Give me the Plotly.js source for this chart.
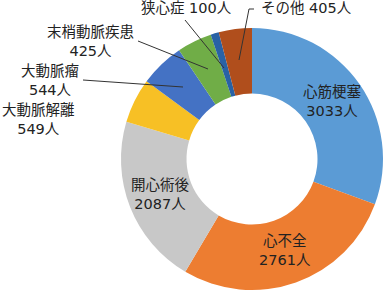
<!DOCTYPE html>
<html><head><meta charset="utf-8">
<script src="https://cdn.plot.ly/plotly-3.0.1.min.js"></script>
<style>html,body{margin:0;padding:0;background:#fff}</style>
</head><body><div id="chart" style="width:387px;height:294px"></div>
<script>
const labels = ["心筋梗塞","心不全","開心術後","大動脈解離","大動脈瘤","末梢動脈疾患","狭心症","その他"];
const values = [3033, 2761, 2087, 549, 544, 425, 100, 405];
const colors = ["#5B9BD5","#ED7D31","#C8C8C8","#F7C025","#4472C4","#70AD47","#2962A5","#B04E1C"];

const W = 387, H = 294;
const px = x => x / W, py = y => 1 - y / H;
const font = {family: "'DejaVu Sans', 'Noto Sans CJK JP', sans-serif", size: 14.5, color: "#222"};

const trace = {
  type: "pie",
  labels: labels,
  values: values,
  sort: false,
  direction: "clockwise",
  rotation: 0,
  hole: 0.5,
  marker: {colors: colors, line: {width: 0}},
  textinfo: "none",
  domain: {x: [(252-131)/W, (252+131)/W], y: [(294-290)/H, (294-28)/H]},
  showlegend: false,
  hoverinfo: "label+value"
};

// label placement (index into arrays), positions in px
const place = [
  {i: 0, x: 332, y: 101, one: false},
  {i: 1, x: 285, y: 251, one: false},
  {i: 2, x: 160, y: 194, one: false},
  {i: 3, x: 38, y: 119, one: false},
  {i: 4, x: 50, y: 81, one: false},
  {i: 5, x: 90, y: 42, one: false},
  {i: 6, x: 186, y: 8, one: true},
  {i: 7, x: 306, y: 8, one: true}
];
const annotations = place.map(o => ({
  xref: "paper", yref: "paper",
  x: px(o.x), y: py(o.y),
  xanchor: "center", yanchor: "middle",
  text: o.one ? labels[o.i] + " " + values[o.i] + "人" : labels[o.i] + "<br>" + values[o.i] + "人",
  showarrow: false,
  font: font
}));

const lc = {color: "#333", width: 1};
const shapes = [
  {type: "line", xref: "paper", yref: "paper", x0: px(83), y0: py(80), x1: px(183), y1: py(87), line: lc},
  {type: "line", xref: "paper", yref: "paper", x0: px(138), y0: py(41), x1: px(208), y1: py(69), line: lc},
  {type: "line", xref: "paper", yref: "paper", x0: px(185), y0: py(20), x1: px(224), y1: py(68), line: lc},
  {type: "path", xref: "paper", yref: "paper",
   path: `M ${px(254)} ${py(9)} L ${px(249)} ${py(9)} L ${px(239)} ${py(60)}`, line: lc}
];

Plotly.newPlot("chart", [trace], {
  width: W, height: H,
  margin: {l: 0, r: 0, t: 0, b: 0},
  paper_bgcolor: "#fff",
  annotations: annotations,
  shapes: shapes,
  font: font
}, {staticPlot: true});
</script></body></html>
